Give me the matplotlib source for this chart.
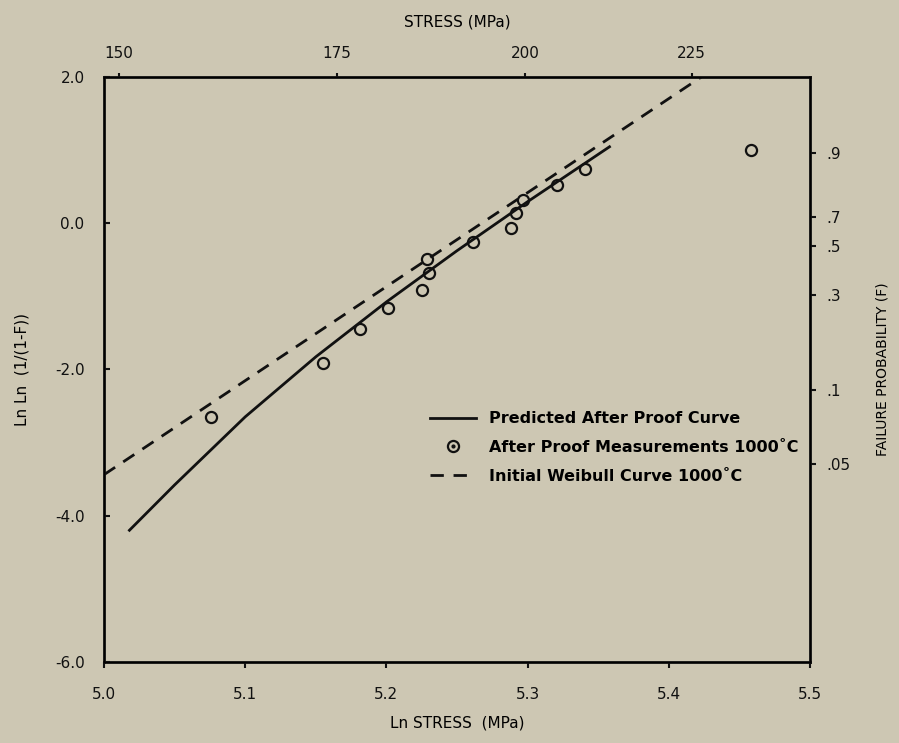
import numpy as np
import matplotlib
matplotlib.use('Agg')
import matplotlib.pyplot as plt
from matplotlib.lines import Line2D
from matplotlib.legend_handler import HandlerTuple

# predicted after-proof curve
pred_x = [5.018, 5.05, 5.10, 5.15, 5.20, 5.25, 5.30, 5.358]
pred_y = [-4.20, -3.58, -2.65, -1.83, -1.08, -0.38, 0.29, 1.04]

# initial weibull line
weib_x = [5.0, 5.4235]
weib_y = [-3.44, 2.0]

# after proof measurements, 1000 C
meas_x = [5.076, 5.155, 5.181, 5.201, 5.225, 5.229, 5.230, 5.261, 5.288,
          5.292, 5.297, 5.321, 5.341, 5.458]
meas_y = [-2.65, -1.92, -1.45, -1.16, -0.92, -0.49, -0.69, -0.26, -0.07,
          0.13, 0.31, 0.52, 0.74, 1.00]

# axes ticks
x_ticks = [5.0, 5.1, 5.2, 5.3, 5.4, 5.5]
y_ticks = [2.0, 0.0, -2.0, -4.0, -6.0]
stress_ticks = [150, 175, 200, 225]
prob_pos = [0.96, 0.08, -0.32, -0.99, -2.29, -3.29]
prob_labels = ['.9', '.7', '.5', '.3', '.1', '.05']

bg = '#cdc7b3'
ink = '#111111'
plt.rcParams['font.family'] = ['DejaVu Sans']

fig = plt.figure(figsize=(8.99, 7.43), dpi=100, facecolor=bg)
ax = fig.add_axes([0.1157, 0.109, 0.7853, 0.788])
ax.set_facecolor(bg)

ax.plot(pred_x, pred_y, '-', color=ink, lw=2.0)
ax.plot(weib_x, weib_y, color=ink, lw=2.0, dashes=(4.8, 3.5))
ax.plot(meas_x, meas_y, 'o', ms=8, mfc='none', mec=ink, mew=1.6)

ax.set_xlim(5.0, 5.5)
ax.set_ylim(-6.0, 2.0)
ax.set_xticks(x_ticks)
ax.set_xticklabels(['%.1f' % v for v in x_ticks], fontsize=11)
ax.set_yticks(y_ticks)
ax.set_yticklabels(['%.1f' % v for v in y_ticks], fontsize=11)
ax.tick_params(axis='x', direction='out', length=4, width=1.5, pad=14, colors=ink)
ax.tick_params(axis='y', direction='in', length=4, width=1.5, pad=14, colors=ink)
for s in ax.spines.values():
    s.set_linewidth(2.0)
    s.set_color(ink)
ax.set_xlabel('Ln STRESS  (MPa)', fontsize=11, labelpad=10)
ax.set_ylabel('Ln Ln  (1/(1-F))', fontsize=11, labelpad=18)

# top axis: stress
axt = ax.twiny()
axt.set_xlim(ax.get_xlim())
axt.set_xticks(np.log(stress_ticks))
axt.set_xticklabels([str(v) for v in stress_ticks], fontsize=11)
axt.tick_params(axis='x', direction='out', length=3, width=1.5, pad=8, colors=ink)
axt.set_xlabel('STRESS (MPa)', fontsize=11, labelpad=14)

# right axis: failure probability
axr = ax.twinx()
axr.set_ylim(ax.get_ylim())
axr.set_yticks(prob_pos)
axr.set_yticklabels(prob_labels, fontsize=11)
axr.tick_params(axis='y', direction='out', length=4, width=1.5, pad=8, colors=ink)
axr.set_ylabel('FAILURE PROBABILITY (F)', fontsize=10, labelpad=18)

# legend
h1 = Line2D([], [], color=ink, lw=2.0)
h2a = Line2D([], [], marker='o', ls='none', ms=8, mfc='none', mec=ink, mew=1.6)
h2b = Line2D([], [], marker='o', ls='none', ms=2, color=ink)
h3 = Line2D([], [], color=ink, lw=2.0, dashes=(4.8, 3.5))
leg = ax.legend([h1, (h2a, h2b), h3],
                ['Predicted After Proof Curve',
                 'After Proof Measurements 1000\u02daC',
                 'Initial Weibull Curve 1000\u02daC'],
                handler_map={tuple: HandlerTuple(ndivide=1)},
                loc='upper left', bbox_to_anchor=(0.462, 0.428),
                frameon=False, fontsize=11.5, handlelength=2.9,
                handletextpad=0.8, labelspacing=0.85,
                borderpad=0, borderaxespad=0)
for t in leg.get_texts():
    t.set_fontweight('bold')

fig.savefig('out.png', dpi=100, facecolor=bg)
